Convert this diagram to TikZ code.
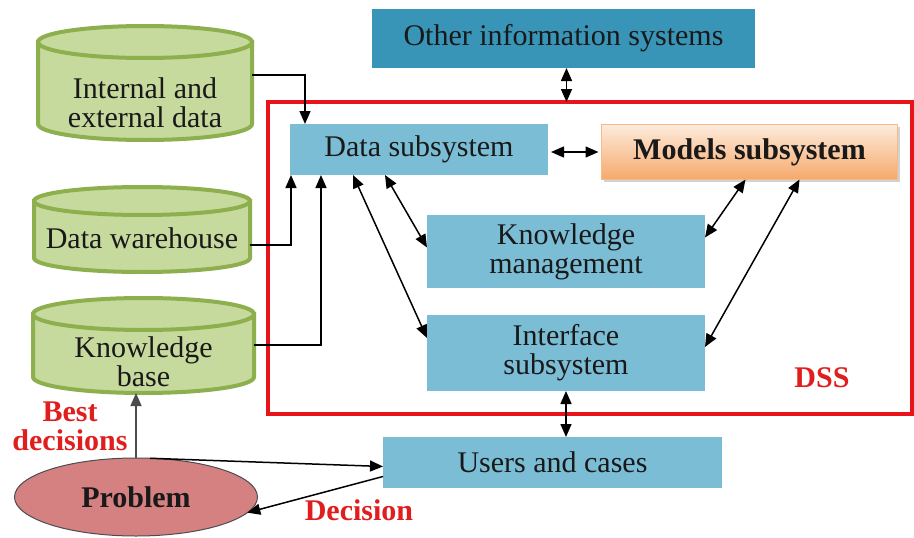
\documentclass[tikz,border=0pt]{standalone}
\usepackage{fontspec}
\setmainfont{Liberation Serif}
\usetikzlibrary{arrows.meta,shapes.geometric,shadows}
\definecolor{lblue}{HTML}{7BBDD5}
\definecolor{dblue}{HTML}{3995B7}
\definecolor{cylfill}{HTML}{C7DA9D}
\definecolor{cyldraw}{HTML}{8DAF4E}
\definecolor{probfill}{HTML}{D68181}
\definecolor{frame}{HTML}{E8141A}
\definecolor{lab}{HTML}{E01E1E}
\definecolor{orTop}{HTML}{FDEBDC}
\definecolor{orBot}{HTML}{F5A96B}
\newcommand\myfs{\fontsize{30}{29}\selectfont}
\begin{document}
\begin{tikzpicture}[x=1pt,y=-1pt,
  every node/.style={font=\myfs, inner sep=0pt, outer sep=0pt, align=center, text=black!90},
  box/.style={fill=lblue, minimum width=#1},
  cylst/.style={fill=cylfill, draw=cyldraw, line width=4pt},
  arr/.style={-{Triangle[length=13pt,width=11pt]}, line width=1.5pt},
  darr/.style={{Triangle[length=13pt,width=11pt]}-{Triangle[length=13pt,width=11pt]}, line width=1.5pt},
  redlab/.style={text=lab, font=\myfs\bfseries}]
\useasboundingbox (0,0) rectangle (914,538);
\fill[white] (0,0) rectangle (914,538);

% cylinders
\filldraw[cylst] (38,42) -- (38,124) arc[start angle=180,end angle=0,x radius=107,y radius=16] -- (252,42) -- cycle;
\filldraw[cylst] (145,42) ellipse [x radius=107, y radius=16];
\filldraw[cylst] (34,201) -- (34,258) arc[start angle=180,end angle=0,x radius=108,y radius=14] -- (250,201) -- cycle;
\filldraw[cylst] (142,201) ellipse [x radius=108, y radius=14];
\filldraw[cylst] (33,314) -- (33,377) arc[start angle=180,end angle=0,x radius=110.5,y radius=16] -- (254,314) -- cycle;
\filldraw[cylst] (143.5,314) ellipse [x radius=110.5, y radius=16];

\node[minimum width=214pt, minimum height=60pt] (ied) at (145,103) {Internal and\\external data};
\node[minimum width=216pt, minimum height=40pt] (dw) at (142,238) {Data warehouse};
\node[minimum width=221pt, minimum height=62pt] (kb) at (143.5,362) {Knowledge\\base};

% DSS frame
\node[draw=frame, line width=3.5pt, minimum width=644pt, minimum height=312pt] (dss) at (590,258) {};
\node[redlab] (dsslab) at (822,378) {DSS};

% boxes
\node[fill=dblue, minimum width=383pt, minimum height=59pt] (oth) at (563.5,38.5) {Other information systems};
\node[box=258pt, minimum height=51pt] (ds) at (419,149.5) {Data subsystem};
\node[shade, top color=orTop, bottom color=orBot, draw=orBot!80!white, line width=0.6pt,
      drop shadow={shadow xshift=2pt, shadow yshift=-2pt, opacity=0.35},
      minimum width=296pt, minimum height=55pt, font=\myfs\bfseries] (ms) at (749.5,152) {Models subsystem};
\node[box=278pt, minimum height=73pt] (km) at (566,251.5) {Knowledge\\management};
\node[box=278pt, minimum height=76pt] (is) at (566,353) {Interface\\subsystem};
\node[box=339pt, minimum height=51pt] (uc) at (552.5,462.5) {Users and cases};
\node[ellipse, fill=probfill, draw=black!70, line width=1pt, minimum width=243pt, minimum height=78pt,
      font=\myfs\bfseries] (prob) at (136,497) {Problem};

% labels
\node[redlab] (best) at (70,426) {Best\\decisions};
\node[redlab] (dec) at (359,510) {Decision};

% connectors
\draw[arr] ([yshift=28pt]ied.east) -| ([xshift=-114pt]ds.north);
\draw[arr] ([yshift=-7pt]dw.east) -| ([xshift=-128pt]ds.south);
\draw[arr] ([yshift=17pt]kb.east) -| ([xshift=-98pt]ds.south);
\draw[darr] ([xshift=-66pt]ds.south) -- ([yshift=15pt]is.west);
\draw[darr] ([xshift=-34pt]ds.south) -- ([yshift=4pt]km.west);
\draw[darr, shorten <=3pt, shorten >=3pt] (ds.east |- ms.west) -- (ms.west);
\draw[darr] ([xshift=-4pt]ms.south) -- ([yshift=14pt]km.east);
\draw[darr] ([xshift=50pt]ms.south) -- ([yshift=6pt]is.east);
\draw[darr] ([xshift=3pt]oth.south) -- ([xshift=3pt]oth.south |- dss.north);
\draw[darr] (is.south) -- (is.south |- uc.north);
\draw[arr, draw=black!70] (prob.north) -- (prob.north |- kb.south);
\draw[arr] (prob.70) -- ([yshift=-4pt]uc.west);
\draw[arr] ([yshift=-14pt]uc.west) -- (prob.-8);
\end{tikzpicture}
\end{document}
